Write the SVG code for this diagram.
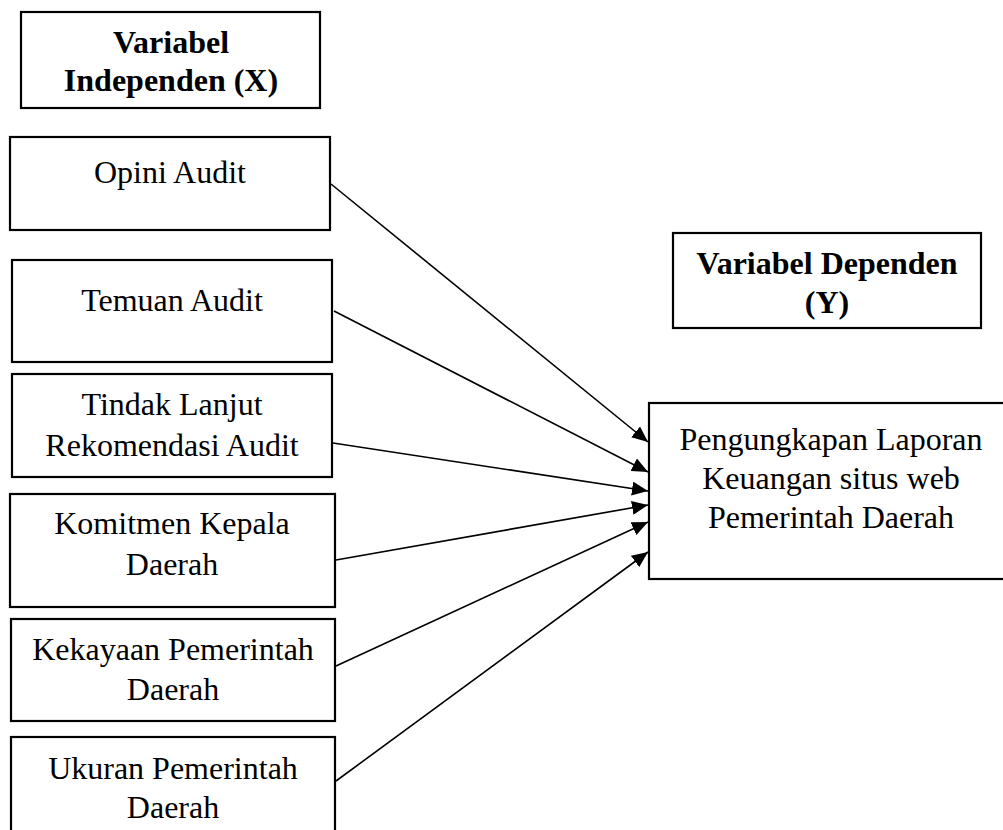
<svg xmlns="http://www.w3.org/2000/svg" width="1003" height="830" viewBox="0 0 1003 830">
<style>
.box{fill:#fff;stroke:#000;stroke-width:2.2}
.t{font-family:"Liberation Serif","Times New Roman",serif;font-size:32px;fill:#000;text-anchor:middle}
.b{font-weight:bold}
.c{stroke:#000;stroke-width:1.6;fill:none}
</style>
<defs>
<marker id="ah" viewBox="0 0 10 10" refX="10" refY="5" markerWidth="16" markerHeight="14" markerUnits="userSpaceOnUse" orient="auto" preserveAspectRatio="none">
<path d="M0,0 L10,5 L0,10 z" fill="#000"/>
</marker>
</defs>
<rect width="1003" height="830" fill="#fff"/>
<g id="var-x">
<rect class="box" x="21" y="12" width="299" height="96"/>
<text class="t b" x="171" y="53">Variabel</text>
<text class="t b" x="171" y="91">Independen (X)</text>
</g>
<g id="opini">
<rect class="box" x="10" y="137" width="320" height="93"/>
<text class="t" x="170" y="183">Opini Audit</text>
</g>
<g id="temuan">
<rect class="box" x="12" y="260" width="320" height="102"/>
<text class="t" x="172" y="311">Temuan Audit</text>
</g>
<g id="tindak">
<rect class="box" x="12" y="374" width="320" height="103"/>
<text class="t" x="172" y="415">Tindak Lanjut</text>
<text class="t" x="172" y="456">Rekomendasi Audit</text>
</g>
<g id="komitmen">
<rect class="box" x="10" y="494" width="325" height="113"/>
<text class="t" x="172" y="534">Komitmen Kepala</text>
<text class="t" x="172" y="575">Daerah</text>
</g>
<g id="kekayaan">
<rect class="box" x="11" y="619" width="324" height="102"/>
<text class="t" x="173" y="660">Kekayaan Pemerintah</text>
<text class="t" x="173" y="700">Daerah</text>
</g>
<g id="ukuran">
<rect class="box" x="11" y="737" width="324" height="110"/>
<text class="t" x="173" y="779">Ukuran Pemerintah</text>
<text class="t" x="173" y="818">Daerah</text>
</g>
<g id="var-y">
<rect class="box" x="673" y="233" width="308" height="95"/>
<text class="t b" x="827" y="274">Variabel Dependen</text>
<text class="t b" x="827" y="313">(Y)</text>
</g>
<g id="pengungkapan">
<rect class="box" x="649" y="403" width="370" height="176"/>
<text class="t" x="831" y="450">Pengungkapan Laporan</text>
<text class="t" x="831" y="489">Keuangan situs web</text>
<text class="t" x="831" y="528">Pemerintah Daerah</text>
</g>
<g id="connectors">
<line class="c" x1="331" y1="184" x2="648" y2="442" marker-end="url(#ah)"/>
<line class="c" x1="334" y1="311" x2="648" y2="472" marker-end="url(#ah)"/>
<line class="c" x1="333" y1="443" x2="648" y2="491" marker-end="url(#ah)"/>
<line class="c" x1="336" y1="560" x2="648" y2="505" marker-end="url(#ah)"/>
<line class="c" x1="336" y1="666" x2="648" y2="522" marker-end="url(#ah)"/>
<line class="c" x1="336" y1="781" x2="648" y2="552" marker-end="url(#ah)"/>
</g>
</svg>
